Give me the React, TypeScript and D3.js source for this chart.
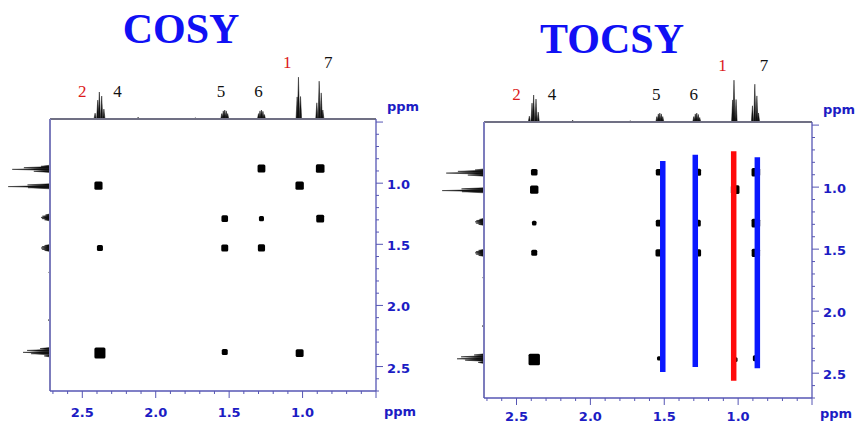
import React from 'react';
import * as d3 from 'd3';

// 1D proton spectrum (projection): line shifts in ppm and relative heights
const lineShifts = [2.413, 2.395, 2.384, 2.368, 2.353, 2.12, 1.73, 1.55, 1.54, 1.53, 1.52, 1.51, 1.30, 1.29, 1.28, 1.27, 1.26, 1.037, 1.028, 1.014, 0.903, 0.887, 0.873, 0.862];
const lineHeights = [0.13, 0.42, 0.6, 0.51, 0.22, 0.04, 0.03, 0.12, 0.18, 0.2, 0.18, 0.12, 0.12, 0.18, 0.2, 0.17, 0.1, 0.49, 0.93, 0.5, 0.36, 0.84, 0.58, 0.2];

// proton numbering written above the 1D trace
const protonLabels = ['2', '4', '5', '6', '1', '7'];
const labelShifts = [2.5, 2.26, 1.555, 1.3, 1.105, 0.825];
const redLabels = ['1', '2'];

// COSY cross peaks: F2 (x), F1 (y), intensity
const cosyF2 = [1.28, 0.88, 2.39, 1.02, 1.53, 1.28, 0.88, 2.38, 1.53, 1.28, 2.38, 1.53, 1.02];
const cosyF1 = [0.88, 0.88, 1.02, 1.02, 1.29, 1.29, 1.29, 1.53, 1.53, 1.53, 2.39, 2.38, 2.39];
const cosyInt = [0.65, 0.72, 0.68, 0.7, 0.55, 0.42, 0.66, 0.5, 0.58, 0.6, 0.92, 0.5, 0.66];

// TOCSY cross peaks
const tocsyF2 = [2.38, 2.38, 2.38, 2.38, 2.38, 1.535, 1.535, 1.535, 1.535, 1.275, 1.275, 1.275, 1.02, 1.02, 0.88, 0.88, 0.88, 0.88];
const tocsyF1 = [0.88, 1.02, 1.29, 1.53, 2.39, 0.88, 1.29, 1.53, 2.38, 0.88, 1.29, 1.53, 1.02, 2.39, 0.88, 1.29, 1.53, 2.38];
const tocsyInt = [0.55, 0.7, 0.38, 0.5, 0.95, 0.55, 0.55, 0.6, 0.35, 0.6, 0.55, 0.6, 0.72, 0.4, 0.72, 0.72, 0.7, 0.5];

// TOCSY spin-system traces drawn over the columns
const traceShifts = [1.51, 1.29, 1.03, 0.87];
const traceStart = [0.79, 0.74, 0.71, 0.76];
const traceEnd = [2.49, 2.45, 2.56, 2.46];
const traceGroup = ['other', 'other', 'H1', 'other'];

const f2Domain = [2.72, 0.5];
const f1Domain = [0.475, 2.7];
const tickValues = d3.range(5, 28).map(v => v / 10);

const axisColor = '#5656b4';
const labelBlue = '#1c1cc4';
const fmt = d3.format('.1f');
const H = 424;

const heightScale = d3.scaleLinear().domain([0, 1]).range([0, 45]);
const spotSize = d3.scaleLinear().domain([0, 1]).range([0, 12]);
const traceColor = d3.scaleOrdinal<string, string>().domain(['H1', 'other']).range(['#ff0a0a', '#0a18ff']);

const isMajor = (v: number) => Math.round(v * 10) % 5 === 0;

function labelRow(shift: number) {
  // tall multiplets nearby push the label up to the upper row
  const near = lineShifts.map((s, i) => (Math.abs(s - shift) < 0.15 ? lineHeights[i] : 0));
  return d3.max(near)! > 0.7 ? 'high' : 'low';
}

type PanelProps = {
  title: string; titleX: number; titleY: number;
  left: number; top: number; right: number; bottom: number;
  f2: number[]; f1: number[]; inten: number[];
  traces?: boolean;
};

const Panel = ({ title, titleX, titleY, left, top, right, bottom, f2, f1, inten, traces }: PanelProps) => {
  const x = d3.scaleLinear().domain(f2Domain).range([left, right]);
  const y = d3.scaleLinear().domain(f1Domain).range([top, bottom]);
  const hw = 1.1;
  // keep the bottom labels inside the picture
  const tickLabelY = Math.min(bottom + 26, H - 3);
  const unitY = Math.min(bottom + 25, H - 6);

  return (
    <g>
      <text x={titleX} y={titleY} textAnchor="middle" fontFamily="'Liberation Serif', 'Times New Roman', serif"
        fontWeight="bold" fontSize={42} fill="#1010f4">{title}</text>

      {/* top projection */}
      {lineShifts.map((s, i) => (
        <path key={'t' + i}
          d={`M${x(s) - hw},${top} L${x(s)},${top - heightScale(lineHeights[i])} L${x(s) + hw},${top} Z`}
          fill="#111" stroke="#111" strokeWidth={0.5} />
      ))}
      {/* left projection */}
      {lineShifts.map((s, i) => (
        <path key={'l' + i}
          d={`M${left},${y(s) - hw} L${left - heightScale(lineHeights[i])},${y(s)} L${left},${y(s) + hw} Z`}
          fill="#111" stroke="#111" strokeWidth={0.5} />
      ))}

      {protonLabels.map((t, i) => (
        <text key={'p' + t} x={x(labelShifts[i])} y={labelRow(labelShifts[i]) === 'high' ? top - 51 : top - 22}
          textAnchor="middle" fontFamily="'Liberation Serif', serif" fontSize={17}
          fill={redLabels.includes(t) ? '#dc1a1a' : '#111'}>{t}</text>
      ))}

      {/* frame */}
      <line x1={left} x2={right} y1={top} y2={top} stroke="#707084" strokeWidth={2} />
      <line x1={left} x2={left} y1={top} y2={bottom} stroke="#7c7cbc" strokeWidth={2} />
      <line x1={left} x2={right} y1={bottom} y2={bottom} stroke={axisColor} strokeWidth={1.3} />
      <line x1={right} x2={right} y1={top} y2={bottom} stroke={axisColor} strokeWidth={1.3} />

      {/* bottom axis (F2) */}
      {tickValues.map(v => (
        <line key={'bx' + v} x1={x(v)} x2={x(v)} y1={bottom} y2={bottom + (isMajor(v) ? 7 : 3)}
          stroke={axisColor} strokeWidth={1} />
      ))}
      {tickValues.filter(v => isMajor(v) && v > 0.6).map(v => (
        <text key={'bl' + v} x={x(v)} y={tickLabelY} textAnchor="middle" fontFamily="'DejaVu Sans', Verdana, sans-serif"
          fontWeight="bold" fontSize={13} fill={labelBlue}>{fmt(v)}</text>
      ))}
      <text x={right + 8} y={unitY} fontFamily="'DejaVu Sans', Verdana, sans-serif" fontWeight="bold"
        fontSize={13} fill={labelBlue}>ppm</text>

      {/* right axis (F1) */}
      {tickValues.map(v => (
        <line key={'ry' + v} x1={right} x2={right + (isMajor(v) ? 7 : 3)} y1={y(v)} y2={y(v)}
          stroke={axisColor} strokeWidth={1} />
      ))}
      {tickValues.filter(v => isMajor(v) && v > 0.6).map(v => (
        <text key={'rl' + v} x={right + 11} y={y(v) + 6} fontFamily="'DejaVu Sans', Verdana, sans-serif"
          fontWeight="bold" fontSize={13} fill={labelBlue}>{fmt(v)}</text>
      ))}
      <text x={right + 11} y={top - 8} fontFamily="'DejaVu Sans', Verdana, sans-serif" fontWeight="bold"
        fontSize={13} fill={labelBlue}>ppm</text>

      {/* cross peaks */}
      {f2.map((s, i) => {
        const sz = spotSize(inten[i]);
        return <rect key={'c' + i} x={x(s) - sz / 2} y={y(f1[i]) - sz / 2} width={sz} height={sz} rx={1.5} fill="#000" />;
      })}

      {traces && traceShifts.map((s, i) => (
        <line key={'tr' + i} x1={x(s)} x2={x(s)} y1={y(traceStart[i])} y2={y(traceEnd[i])}
          stroke={traceColor(traceGroup[i])} strokeWidth={5.5} />
      ))}
    </g>
  );
};

export default function App() {
  return (
    <div style={{ position: 'absolute', left: 0, top: 0 }}>
      <svg width={856} height={H} style={{ display: 'block', background: '#fff' }}>
        <Panel title="COSY" titleX={181} titleY={43} left={50} top={119} right={376} bottom={391}
          f2={cosyF2} f1={cosyF1} inten={cosyInt} />
        <Panel title="TOCSY" titleX={612} titleY={53} left={484} top={122} right={812} bottom={398}
          f2={tocsyF2} f1={tocsyF1} inten={tocsyInt} traces />
      </svg>
    </div>
  );
}
